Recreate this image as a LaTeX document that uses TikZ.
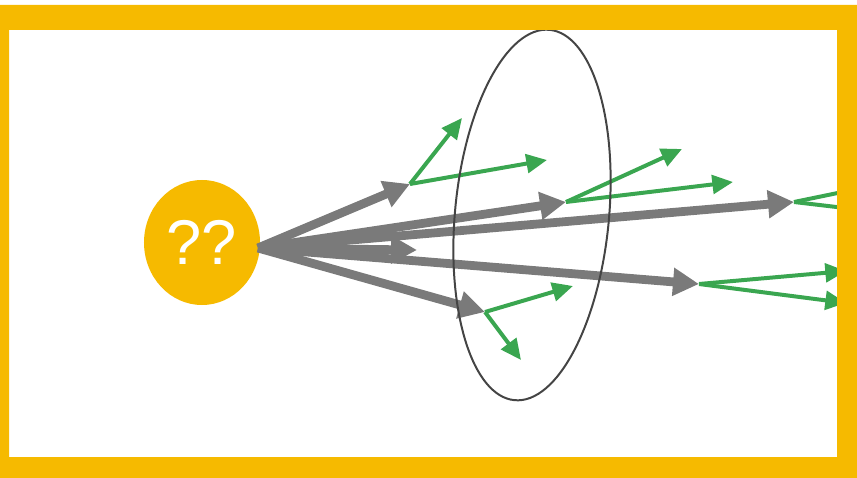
\documentclass[tikz,border=0pt]{standalone}
\usepackage{fontspec}
\setmainfont{Liberation Sans}
\usetikzlibrary{arrows.meta,shapes.geometric}
\definecolor{frameyellow}{RGB}{246,186,0}
\definecolor{hitgray}{RGB}{122,122,122}
\definecolor{hitgreen}{RGB}{58,166,80}
\definecolor{ringgray}{RGB}{68,68,68}
\begin{document}
\begin{tikzpicture}[x=0.03cm,y=-0.03cm,
  primary/.style={hitgray,line width=7.5pt,-{Triangle[length=0.78cm,width=0.8cm]}},
  secondary/.style={hitgreen,line width=3.4pt,-{Triangle[length=0.62cm,width=0.56cm]}}]
\useasboundingbox (0,0) rectangle (857,478);
\node[ellipse,fill=frameyellow,minimum width=3.48cm,minimum height=3.75cm,inner sep=0pt,
  text=white,font=\fontsize{54}{60}\selectfont] (src) at (202,242.5) {??};
\coordinate (o) at (258,248);
% where the first particles stop
\coordinate (h1) at (410,184);
\coordinate (h2) at (566,202);
\coordinate (h3) at (794,202);
\coordinate (h4) at (417,250);
\coordinate (h5) at (699,284);
\coordinate (h6) at (485,312);
% green secondaries
\coordinate (s1a) at (462,118);
\coordinate (s1b) at (547,160);
\coordinate (s2a) at (682,149);
\coordinate (s2b) at (733,182);
\coordinate (s3a) at (862,188);
\coordinate (s3b) at (862,210);
\coordinate (s5a) at (846,271);
\coordinate (s5b) at (846,303);
\coordinate (s6a) at (573,286);
\coordinate (s6b) at (521,360);
\draw[primary] (o) -- (h1);
\draw[primary] (o) -- (h2);
\draw[primary] (o) -- (h3);
\draw[primary] (o) -- (h4);
\draw[primary] (o) -- (h5);
\draw[primary] (o) -- (h6);
\draw[secondary] (h1) -- (s1a);
\draw[secondary] (h1) -- (s1b);
\draw[secondary] (h2) -- (s2a);
\draw[secondary] (h2) -- (s2b);
\draw[secondary] (h3) -- (s3a);
\draw[secondary] (h3) -- (s3b);
\draw[secondary] (h5) -- (s5a);
\draw[secondary] (h5) -- (s5b);
\draw[secondary] (h6) -- (s6a);
\draw[secondary] (h6) -- (s6b);
\node[draw=ringgray,line width=1.7pt,ellipse,inner sep=0pt,minimum width=4.62cm,
  minimum height=11.16cm,rotate=-5.4] (ring) at (532,215) {};
\fill[frameyellow,even odd rule] (0,5) rectangle (857,478) (9,30) rectangle (837,457);
\end{tikzpicture}
\end{document}
